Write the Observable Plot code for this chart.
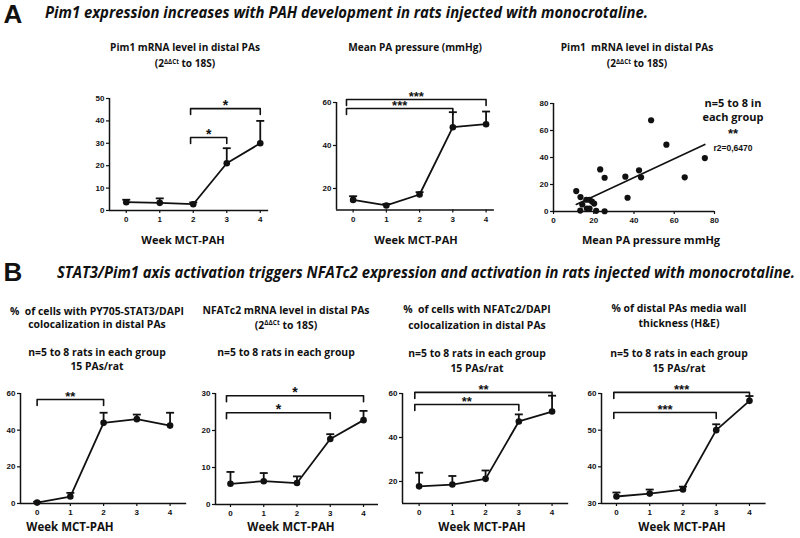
<!DOCTYPE html>
<html><head><meta charset="utf-8">
<script src="https://cdn.jsdelivr.net/npm/d3@7"></script>
<script src="https://cdn.jsdelivr.net/npm/@observablehq/plot@0.6"></script>
<style>
body{margin:0;background:#fff;}
#fig{position:relative;width:800px;height:538px;overflow:hidden;font-family:"Open Sans",Lato,sans-serif;color:#111;}
.t{position:absolute;white-space:nowrap;font-weight:700;transform:translate(-50%,-50%);text-align:center;line-height:1;}
.t sup{font-size:0.62em;vertical-align:0.55em;line-height:0;}
#fig svg{position:absolute;overflow:visible;}
</style></head><body><div id="fig"></div>
<script>
// ---------- data ----------
const weeks = [0, 1, 2, 3, 4];
// A1: Pim1 mRNA level
const pim1Mean  = [3.7, 3.4, 2.8, 21.1, 30.0];
const pim1Upper = [4.8, 5.4, 3.6, 27.8, 40.0];
const pim1Brackets = [{from: 1.92, to: 3, y: 32.6, label: "*"}, {from: 1.92, to: 4, y: 45.5, label: "*"}];
// A2: Mean PA pressure
const mpapMean  = [14.7, 12.1, 17.2, 48.5, 49.9];
const mpapUpper = [16.4, 12.8, 18.3, 55.5, 55.8];
const mpapBrackets = [{from: -0.2, to: 3, y: 57.2, label: "***"}, {from: -0.2, to: 4, y: 61.4, label: "***"}];
// A3: correlation scatter (mean PA pressure vs Pim1 mRNA)
const scatterPressure = [11.3, 13.4, 14.3, 13.3, 16.3, 17.9, 19.1, 16.6, 17.9, 20.2, 21.2, 23.2, 25.4, 25.4, 35.7, 36.8, 42.5, 43.5, 48.5, 56.1, 65.2, 75.2];
const scatterPim1     = [15.1, 10.7, 5.2, 0.7, 8.7, 8.7, 7.4, 2.2, 2.2, 5.9, 0.5, 31.2, 25.0, 0.2, 25.8, 10.2, 30.5, 25.3, 67.6, 49.5, 25.3, 39.6];
const fitSlope = 0.696, fitIntercept = -2.67;
// B1: PY705-STAT3/DAPI
const stat3Mean  = [0.5, 3.8, 44.0, 46.0, 42.5];
const stat3Upper = [0.9, 5.8, 49.5, 48.5, 49.5];
const stat3Brackets = [{from: 0, to: 2, y: 56.7, label: "**"}];
// B2: NFATc2 mRNA
const nfatMean  = [5.6, 6.3, 5.8, 17.7, 22.8];
const nfatUpper = [8.8, 8.5, 7.6, 19.0, 25.3];
const nfatBrackets = [{from: -0.12, to: 3, y: 24.8, label: "*"}, {from: -0.12, to: 4, y: 29.4, label: "*"}];
// B3: NFATc2/DAPI
const nfatDapiMean  = [17.8, 18.6, 21.2, 47.3, 51.8];
const nfatDapiUpper = [24.0, 22.5, 25.0, 50.5, 59.0];
const nfatDapiBrackets = [{from: -0.13, to: 3, y: 55.0, label: "**"}, {from: -0.13, to: 4, y: 60.5, label: "**"}];
// B4: media wall thickness
const wallMean  = [31.9, 32.7, 33.8, 50.0, 58.0];
const wallUpper = [33.0, 33.8, 34.6, 51.6, 59.3];
const wallBrackets = [{from: -0.08, to: 3, y: 54.8, label: "***"}, {from: -0.08, to: 4, y: 60.3, label: "***"}];

// ---------- helpers ----------
const fig = document.getElementById("fig");
function label(html, x, y, size, extra = {}) {
  const d = document.createElement("div");
  d.className = "t";
  d.innerHTML = html;
  d.style.left = x + "px";
  d.style.top = y + "px";
  d.style.fontSize = size + "px";
  Object.assign(d.style, extra);
  fig.append(d);
  return d;
}
function series(mean, upper) {
  return weeks.map((w, i) => ({week: w, mean: mean[i], upper: upper[i]}));
}
const INK = "#111";
function panel({frame, xDomain, yDomain, xTicks, yTicks, marks}) {
  const mL = 34, mR = 14, mT = 45, mB = 24;
  const w = frame.right - frame.left, h = frame.bottom - frame.top;
  const chart = Plot.plot({
    width: w + mL + mR, height: h + mT + mB,
    marginLeft: mL, marginRight: mR, marginTop: mT, marginBottom: mB,
    x: {domain: xDomain}, y: {domain: yDomain},
    style: {background: "transparent", fontFamily: "'Liberation Sans', Arial, sans-serif", fontSize: "8px", fontWeight: "bold", color: INK, overflow: "visible"},
    marks: [
      Plot.ruleX([xDomain[0]], {y1: yDomain[0], y2: yDomain[1], stroke: INK, strokeWidth: 1.5}),
      Plot.ruleY([yDomain[0]], {x1: xDomain[0], x2: xDomain[1], stroke: INK, strokeWidth: 1.5}),
      Plot.axisY({ticks: yTicks, tickSize: 3, tickPadding: 2, label: null, tickFormat: d => d, stroke: INK, strokeWidth: 1.2}),
      Plot.axisX({ticks: xTicks, tickSize: 3, tickPadding: 3, label: null, tickFormat: d => d, stroke: INK, strokeWidth: 1.2}),
      ...marks({pxX: w / (xDomain[1] - xDomain[0]), pxY: h / (yDomain[1] - yDomain[0])})
    ]
  });
  chart.style.left = (frame.left - mL) + "px";
  chart.style.top = (frame.top - mT) + "px";
  fig.append(chart);
}
function timeMarks(data, brackets, starSize = 14) {
  return ({pxX, pxY}) => {
    const cap = 4 / pxX, leg = 6 / pxY;
    const bpts = brackets.flatMap((b, i) => [
      {b: i, x: b.from, y: b.y - leg}, {b: i, x: b.from, y: b.y},
      {b: i, x: b.to, y: b.y}, {b: i, x: b.to, y: b.y - leg}
    ]);
    return [
      Plot.ruleX(data, {x: "week", y1: "mean", y2: "upper", stroke: INK, strokeWidth: 1.8}),
      Plot.link(data, {x1: d => d.week - cap, x2: d => d.week + cap, y1: "upper", y2: "upper", stroke: INK, strokeWidth: 1.8}),
      Plot.line(data, {x: "week", y: "mean", stroke: INK, strokeWidth: 1.8}),
      Plot.dot(data, {x: "week", y: "mean", r: 3.3, fill: INK, stroke: "none"}),
      Plot.line(bpts, {x: "x", y: "y", z: "b", stroke: INK, strokeWidth: 1.6}),
      Plot.text(brackets, {x: d => (d.from + d.to) / 2, y: "y", text: "label", dy: starSize * 0.12, fontSize: starSize, fontWeight: "bold", fill: INK, lineAnchor: "bottom"})
    ];
  };
}

// ---------- headers ----------
label("A", 13, 14, 26, {fontFamily: "'Liberation Sans', Arial, sans-serif"});
label("B", 13, 272, 26, {fontFamily: "'Liberation Sans', Arial, sans-serif"});
function header(text, x0, x1, y) {
  const d = label(text, x0, y, 16, {fontStyle: "italic", transform: "translate(0,-50%)", transformOrigin: "0 50%"});
  const w = d.getBoundingClientRect().width;
  d.style.transform = `translate(0,-50%) scaleX(${(x1 - x0) / w})`;
}
header("Pim1 expression increases with PAH development in rats injected with monocrotaline.", 45, 648, 12);
header("STAT3/Pim1 axis activation triggers NFATc2 expression and activation in rats injected with monocrotaline.", 57, 795, 272);

// ---------- row A ----------
const TA = 10.1, TB = 10.4;
label("Pim1 mRNA level in distal PAs", 185, 47, TA);
label("(2<sup>ΔΔCt</sup> to 18S)", 185, 63, TA);
label("Mean PA pressure (mmHg)", 415, 47, TA);
label("Pim1&nbsp; mRNA level in distal PAs", 637, 47, TA);
label("(2<sup>ΔΔCt</sup> to 18S)", 637, 63, TA);
label("Week MCT-PAH", 183, 239, 11);
label("Week MCT-PAH", 416, 239, 11);
label("Mean PA pressure mmHg", 651, 239, 11);

panel({frame: {left: 109.25, right: 268.4, top: 98, bottom: 210}, xDomain: [-0.5, 4.25], yDomain: [0, 50],
  xTicks: weeks, yTicks: [0, 10, 20, 30, 40, 50], marks: timeMarks(series(pim1Mean, pim1Upper), pim1Brackets)});
panel({frame: {left: 336.4, right: 494.3, top: 102, bottom: 209.5}, xDomain: [-0.5, 4.25], yDomain: [10, 60],
  xTicks: weeks, yTicks: [20, 40, 60], marks: timeMarks(series(mpapMean, mpapUpper), mpapBrackets, 13)});
const scatter = scatterPressure.map((p, i) => ({p, v: scatterPim1[i]}));
const fitEnds = d3.extent(scatterPressure).map(p => ({p, v: fitIntercept + fitSlope * p}));
panel({frame: {left: 553, right: 714, top: 103, bottom: 211}, xDomain: [0, 80], yDomain: [0, 80],
  xTicks: [0, 20, 40, 60, 80], yTicks: [0, 20, 40, 60, 80], marks: () => [
    Plot.line(fitEnds, {x: "p", y: "v", stroke: INK, strokeWidth: 1.6}),
    Plot.dot(scatter, {x: "p", y: "v", r: 3.1, fill: INK, stroke: "none"})
  ]});
label("n=5 to 8 in", 733, 102, 11);
label("each group", 733, 116, 11);
label("**", 733, 133, 13, {fontFamily: "'Liberation Sans', Arial, sans-serif"});
label("r2=0,6470", 733, 148, 8.5, {fontFamily: "'Liberation Sans', Arial, sans-serif"});

// ---------- row B ----------
label("%&nbsp; of cells with PY705-STAT3/DAPI", 97, 311, TB);
label("colocalization in distal PAs", 97, 324, TB);
label("n=5 to 8 rats in each group", 97, 352, TB);
label("15 PAs/rat", 97, 366, TB);
label("NFATc2 mRNA level in distal PAs", 286, 310, TB);
label("(2<sup>ΔΔCt</sup> to 18S)", 286, 325, TB);
label("n=5 to 8 rats in each group", 286, 352, TB);
label("%&nbsp; of cells with NFATc2/DAPI", 477, 309, TB);
label("colocalization in distal PAs", 477, 325, TB);
label("n=5 to 8 rats in each group", 477, 353, TB);
label("15 PAs/rat", 477, 368, TB);
label("% of distal PAs media wall", 679, 308, TB);
label("thickness (H&amp;E)", 679, 323, TB);
label("n=5 to 8 rats in each group", 679, 353, TB);
label("15 PAs/rat", 679, 368, TB);
label("Week MCT-PAH", 70, 527, 11.5);
label("Week MCT-PAH", 291, 527, 11.5);
label("Week MCT-PAH", 482, 527, 11.5);
label("Week MCT-PAH", 682, 527, 11.5);

panel({frame: {left: 20.4, right: 186.6, top: 393, bottom: 503}, xDomain: [-0.5, 4.5], yDomain: [0, 60],
  xTicks: weeks, yTicks: [0, 20, 40, 60], marks: timeMarks(series(stat3Mean, stat3Upper), stat3Brackets, 13)});
panel({frame: {left: 215, right: 378, top: 393, bottom: 504}, xDomain: [-0.45, 4.45], yDomain: [0, 30],
  xTicks: weeks, yTicks: [0, 10, 20, 30], marks: timeMarks(series(nfatMean, nfatUpper), nfatBrackets)});
panel({frame: {left: 402.4, right: 568.6, top: 393, bottom: 503}, xDomain: [-0.5, 4.5], yDomain: [10, 60],
  xTicks: weeks, yTicks: [20, 40, 60], marks: timeMarks(series(nfatDapiMean, nfatDapiUpper), nfatDapiBrackets, 13)});
panel({frame: {left: 601, right: 765.6, top: 393, bottom: 503}, xDomain: [-0.45, 4.5], yDomain: [30, 60],
  xTicks: weeks, yTicks: [30, 40, 50, 60], marks: timeMarks(series(wallMean, wallUpper), wallBrackets, 13)});
</script>
</body></html>
